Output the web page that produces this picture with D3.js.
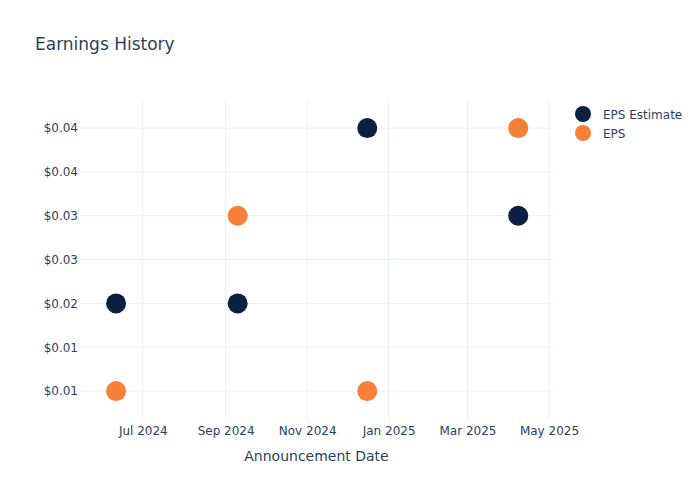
<!DOCTYPE html>
<html>
<head>
<meta charset="utf-8">
<script src="https://cdn.jsdelivr.net/npm/d3@7"></script>
<style>
    body { margin: 0; background: #fff; }
    text { font-family: "DejaVu Sans", "Open Sans", Verdana, sans-serif; fill: #2a3f5f; }
</style>
</head>
<body>
<div id="chart"></div>
<script>
// ========================================
// DATA
// ========================================
const dates = ['2024-06-11', '2024-09-10', '2024-12-16', '2025-04-08'];
const epsEstimate = [0.015, 0.015, 0.035, 0.025];
const epsActual = [0.005, 0.025, 0.005, 0.035];

const yTicks = [0.005, 0.01, 0.015, 0.02, 0.025, 0.03, 0.035];
const yTickLabels = ['$0.01', '$0.01', '$0.02', '$0.03', '$0.03', '$0.04', '$0.04'];
const xTicks = ['2024-07-01', '2024-09-01', '2024-11-01', '2025-01-01', '2025-03-01', '2025-05-01'];
const xTickLabels = ['Jul 2024', 'Sep 2024', 'Nov 2024', 'Jan 2025', 'Mar 2025', 'May 2025'];

const series = [
    { name: 'EPS Estimate', color: '#0b1f41', values: epsEstimate },
    { name: 'EPS', color: '#f68038', values: epsActual },
];

// ========================================
// LAYOUT
// ========================================
const width = 700, height = 500;
const margin = { top: 100, right: 147, bottom: 80, left: 80 };
const parse = d3.utcParse('%Y-%m-%d');

const x = d3.scaleUtc()
    .domain([parse('2024-05-15'), parse('2025-05-04')])
    .range([margin.left, width - margin.right]);

const y = d3.scaleLinear()
    .domain([0.0017, 0.0382])
    .range([height - margin.bottom, margin.top]);

const svg = d3.select('#chart').append('svg')
    .attr('width', width).attr('height', height);

// Title
svg.append('text')
    .attr('x', 35).attr('y', 50)
    .attr('font-size', '17px')
    .text('Earnings History');

// Grid
const grid = svg.append('g');
grid.selectAll('.vgrid')
    .data(xTicks).enter()
    .append('line')
    .attr('x1', d => x(parse(d))).attr('x2', d => x(parse(d)))
    .attr('y1', margin.top).attr('y2', height - margin.bottom)
    .attr('stroke', '#ebf0f8').attr('stroke-width', 1);

grid.selectAll('.hgrid')
    .data(yTicks).enter()
    .append('line')
    .attr('x1', margin.left).attr('x2', width - margin.right)
    .attr('y1', d => y(d)).attr('y2', d => y(d))
    .attr('stroke', '#ebf0f8').attr('stroke-width', 1);

// Y axis
const yAxis = d3.axisLeft(y)
    .tickValues(yTicks)
    .tickSize(0)
    .tickPadding(2)
    .tickFormat((d, i) => yTickLabels[i]);

svg.append('g')
    .attr('transform', `translate(${margin.left},0)`)
    .call(yAxis)
    .call(g => g.select('.domain').remove())
    .call(g => g.selectAll('text').attr('font-size', '12px').attr('fill', '#2a3f5f').attr('font-family', null));

// X axis
const xAxis = d3.axisBottom(x)
    .tickValues(xTicks.map(parse))
    .tickSize(0)
    .tickPadding(6)
    .tickFormat((d, i) => xTickLabels[i]);

svg.append('g')
    .attr('transform', `translate(0,${height - margin.bottom})`)
    .call(xAxis)
    .call(g => g.select('.domain').remove())
    .call(g => g.selectAll('text').attr('font-size', '12px').attr('fill', '#2a3f5f').attr('font-family', null));

svg.append('text')
    .attr('x', (margin.left + width - margin.right) / 2)
    .attr('y', 461)
    .attr('text-anchor', 'middle')
    .attr('font-size', '14px')
    .text('Announcement Date');

// Points
series.forEach(s => {
    svg.append('g').selectAll('circle')
        .data(dates.map((d, i) => ({ date: parse(d), value: s.values[i] }))).enter()
        .append('circle')
        .attr('cx', d => x(d.date))
        .attr('cy', d => y(d.value))
        .attr('r', 10)
        .attr('fill', s.color);
});

// Legend
const legend = svg.append('g').attr('transform', 'translate(583,114)');
series.forEach((s, i) => {
    const row = legend.append('g').attr('transform', `translate(0,${i * 19})`);
    row.append('circle').attr('r', 8).attr('fill', s.color);
    row.append('text')
        .attr('x', 20).attr('y', 4.5)
        .attr('font-size', '12px')
        .text(s.name);
});
</script>
</body>
</html>
